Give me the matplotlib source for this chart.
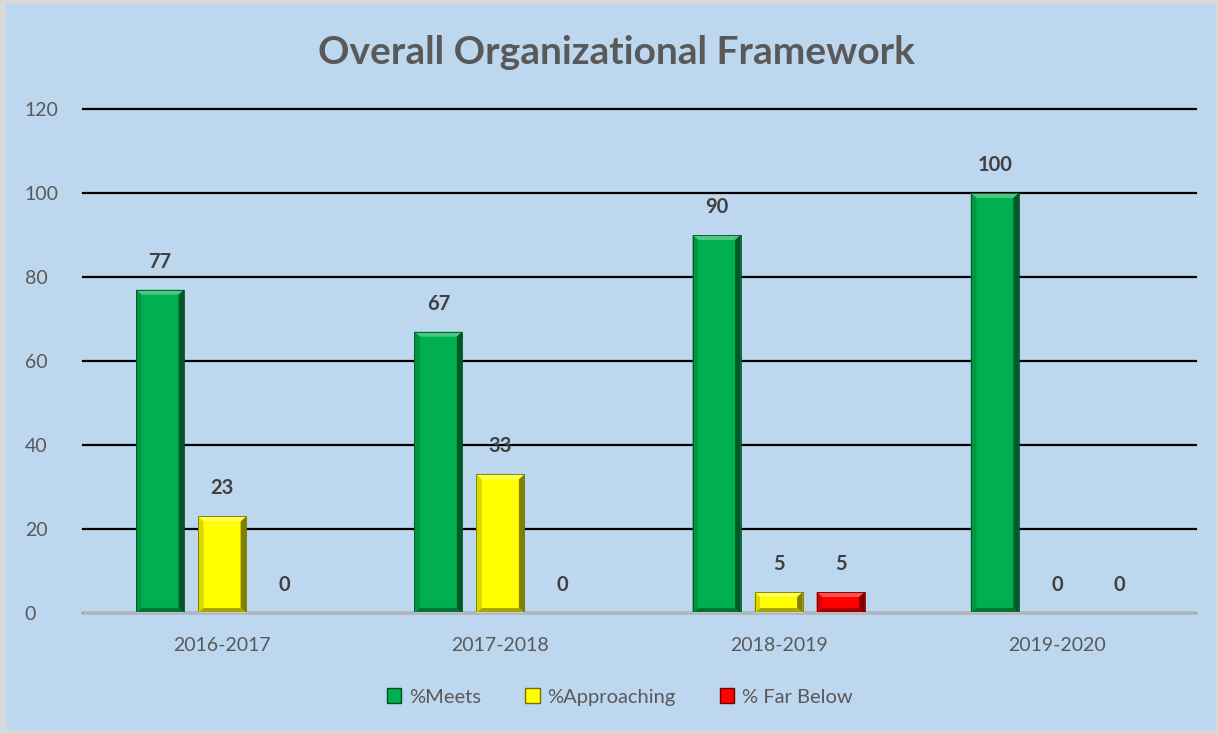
import matplotlib
matplotlib.use("Agg")
import matplotlib.pyplot as plt
from matplotlib.patches import Polygon, Rectangle
from matplotlib.colors import to_rgb
import numpy as np

# ---------------------------------------------------------------------------
# Data
# ---------------------------------------------------------------------------
years = ["2016-2017", "2017-2018", "2018-2019", "2019-2020"]
meets = [77, 67, 90, 100]
approaching = [23, 33, 5, 0]
far_below = [0, 0, 5, 0]

series_names = ["%Meets", "%Approaching", "% Far Below"]
series_colors = ["#00B050", "#FFFF00", "#FF0000"]

BG = "#BDD7EE"
TXT = "#595959"

plt.rcParams["font.family"] = ["Lato", "DejaVu Sans"]


def shade(color, f):
    r, g, b = to_rgb(color)
    if f >= 0:
        return (r + (1 - r) * f, g + (1 - g) * f, b + (1 - b) * f)
    return (r * (1 + f), g * (1 + f), b * (1 + f))


def bevel_bar(ax, patch, color, dx=0.02, dy=1.2):
    """Excel-style bevel: lighter top, darker right / bottom."""
    x, y = patch.get_x(), patch.get_y()
    w, h = patch.get_width(), patch.get_height()
    if h <= 0:
        return
    dy = min(dy, h / 3)
    x0, x1, y0, y1 = x, x + w, y, y + h
    faces = [
        ([(x0, y1), (x1, y1), (x1 - dx, y1 - dy), (x0 + dx, y1 - dy)], shade(color, 0.3)),
        ([(x0, y0), (x0 + dx, y0 + dy), (x0 + dx, y1 - dy), (x0, y1)], shade(color, -0.15)),
        ([(x1, y0), (x1, y1), (x1 - dx, y1 - dy), (x1 - dx, y0 + dy)], shade(color, -0.5)),
        ([(x0, y0), (x1, y0), (x1 - dx, y0 + dy), (x0 + dx, y0 + dy)], shade(color, -0.35)),
    ]
    for pts, c in faces:
        ax.add_patch(Polygon(pts, closed=True, facecolor=c, edgecolor="none", zorder=3))
    ax.add_patch(Rectangle((x0, y0), w, h, fill=False,
                           edgecolor=shade(color, -0.55), linewidth=0.6, zorder=4))


# ---------------------------------------------------------------------------
# Figure
# ---------------------------------------------------------------------------
fig = plt.figure(figsize=(12.18, 7.34), dpi=100, facecolor="#D9D9D9")
fig.patches.append(Rectangle((6 / 1218, 4 / 734), 1210 / 1218, 726 / 734,
                             transform=fig.transFigure, facecolor=BG,
                             edgecolor="none", zorder=-10))

ax = fig.add_axes([83 / 1218, 1 - 613 / 734, 1113 / 1218, 504 / 734])
ax.set_facecolor(BG)

x = np.arange(len(years))
width = 0.173
offset = 0.223

for i, (vals, col) in enumerate(zip([meets, approaching, far_below], series_colors)):
    bars = ax.bar(x + (i - 1) * offset, vals, width, color=col,
                  edgecolor="none", zorder=2)
    for b, v in zip(bars, vals):
        bevel_bar(ax, b, col)
        ax.annotate(f"{v}", (b.get_x() + b.get_width() / 2, v),
                    xytext=(0, 13), textcoords="offset points",
                    ha="center", va="bottom", fontsize=14.5, fontweight="bold",
                    color="#404040")

ax.set_xlim(-0.5, len(years) - 0.5)
ax.set_ylim(0, 120)
ax.set_yticks(range(0, 121, 20))
ax.set_xticks(x)
ax.set_xticklabels(years)
ax.tick_params(axis="both", length=0, labelsize=14, colors=TXT)
ax.tick_params(axis="x", pad=17)
ax.tick_params(axis="y", pad=42)
for lab in ax.get_yticklabels():
    lab.set_horizontalalignment("left")

ax.yaxis.grid(True, color="black", linewidth=1.6, zorder=1)
for gl in ax.get_ygridlines():
    gl.set_clip_on(False)
ax.set_axisbelow(True)
for s in ["top", "right", "left"]:
    ax.spines[s].set_visible(False)
ax.spines["bottom"].set_color("#D9D9D9")
ax.spines["bottom"].set_linewidth(1.2)
ax.spines["bottom"].set_zorder(5)

fig.text(616 / 1218, 1 - 52 / 734, "Overall Organizational Framework",
         ha="center", va="center", fontsize=28, fontweight="bold", color=TXT)

handles = [Rectangle((0, 0), 1, 1, facecolor=c, edgecolor=shade(c, -0.55))
           for c in series_colors]
fig.legend(handles, series_names, loc="center", ncol=3,
           bbox_to_anchor=(620 / 1218, 1 - 697 / 734), frameon=False,
           fontsize=14.5, labelcolor=TXT, handlelength=0.7, handleheight=0.7,
           handletextpad=0.4, columnspacing=2.2)

fig.savefig("out.png", dpi=100, facecolor=fig.get_facecolor())
